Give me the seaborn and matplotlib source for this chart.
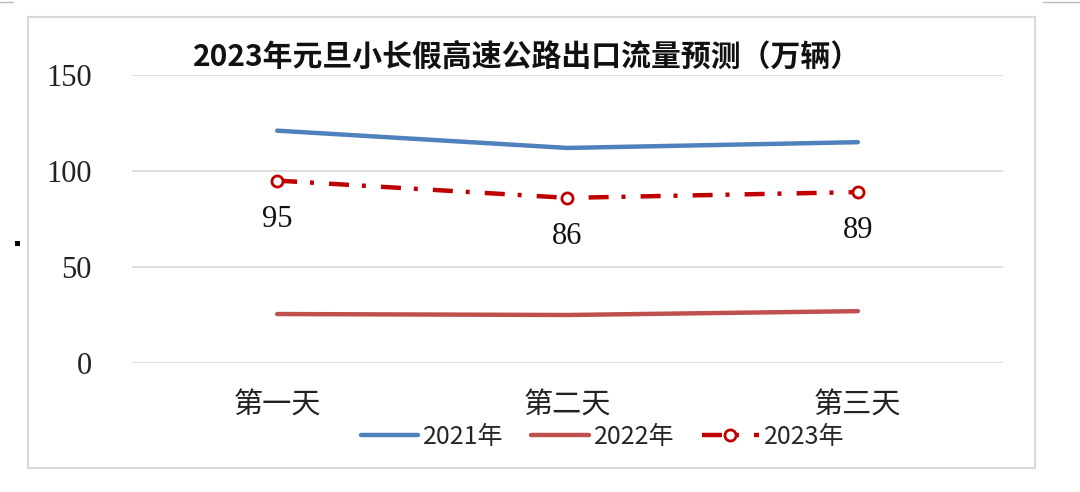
import matplotlib
matplotlib.use("Agg")
import matplotlib.pyplot as plt
import seaborn as sns
import pandas as pd
from matplotlib.lines import Line2D
from matplotlib.patches import Rectangle

categories = ["第一天", "第二天", "第三天"]
v2021 = [121, 112, 115]
v2022 = [25.5, 25, 27]
v2023 = [95, 86, 89]
series_names = ["2021年", "2022年", "2023年"]
yticks = [0, 50, 100, 150]
title = "2023年元旦小长假高速公路出口流量预测（万辆）"

sns.set_theme(style="white")
plt.rcParams['font.family'] = ['Noto Sans CJK SC', 'DejaVu Sans']

fig = plt.figure(figsize=(10.8, 4.92), dpi=100)
ax = fig.add_axes([0.1222, 0.2622, 0.8065, 0.5854])

df = pd.DataFrame({"day": categories * 3,
                   "value": v2021 + v2022 + v2023,
                   "year": [series_names[0]] * 3 + [series_names[1]] * 3 + [series_names[2]] * 3})

colors = {"2021年": "#4F81BD", "2022年": "#C0504D", "2023年": "#C00000"}

sns.lineplot(data=df[df.year == "2021年"], x="day", y="value", color=colors["2021年"],
             lw=3.2, ax=ax, sort=False, legend=False, solid_capstyle="round")
sns.lineplot(data=df[df.year == "2022年"], x="day", y="value", color=colors["2022年"],
             lw=3.2, ax=ax, sort=False, legend=False, solid_capstyle="round")
sns.lineplot(data=df[df.year == "2023年"], x="day", y="value", color=colors["2023年"],
             lw=3.2, ax=ax, sort=False, legend=False, marker="o", markersize=8,
             markerfacecolor="white", markeredgecolor=colors["2023年"], markeredgewidth=2)
ls = (0, (4.5, 2.9, 0.9, 3.4))
ax.lines[-1].set_linestyle(ls)

for i, v in enumerate(v2023):
    ax.annotate(str(v), (i, v), xytext=(0, -28), textcoords="offset points",
                ha="center", va="center", fontsize=22, family="Liberation Serif", color="#111111")

ax.set_xlim(-0.5, 2.5)
ax.set_ylim(0, 150)
ax.set_yticks(yticks)
ax.set_yticklabels([str(t) for t in yticks], family="Liberation Serif", fontsize=22, color="#222222")
ax.set_xticks(range(len(categories)))
ax.set_xticklabels(categories, fontsize=21, color="#222222", family=["Noto Sans CJK SC"], fontweight="light")
ax.tick_params(axis="y", pad=29, length=0)
ax.tick_params(axis="x", pad=20, length=0)
ax.set_xlabel("")
ax.set_ylabel("")
ax.yaxis.grid(True, color="#d9d9d9", lw=1.2)
ax.xaxis.grid(False)
for s in ax.spines.values():
    s.set_visible(False)

fig.text(0.488, 0.884, title, ha="center", va="center", fontsize=21.5, fontweight="bold",
         family=["Noto Sans CJK SC"], color="#111111")

handles = [
    Line2D([], [], color=colors["2021年"], lw=3.2, solid_capstyle="round"),
    Line2D([], [], color=colors["2022年"], lw=3.2, solid_capstyle="round"),
    Line2D([], [], color=colors["2023年"], lw=3.2, linestyle=ls, marker="o", markersize=8,
           markerfacecolor="white", markeredgecolor=colors["2023年"], markeredgewidth=2),
]
fig.legend(handles, series_names, loc="center", bbox_to_anchor=(0.558, 0.112), ncol=3,
           frameon=False, handlelength=2.3, handletextpad=0.2, columnspacing=1.1,
           prop={"family": ["Noto Sans CJK SC"], "size": 18})

fig.add_artist(Rectangle((28 / 1080, 1 - 468 / 492), (1035 - 28) / 1080, (468 - 17) / 492,
                         transform=fig.transFigure, fill=False, edgecolor="#d9d9d9", lw=1.5))
fig.add_artist(Rectangle((15 / 1080, 1 - 246 / 492), 5 / 1080, 5 / 492,
                         transform=fig.transFigure, facecolor="black", edgecolor="none"))
fig.add_artist(Line2D([0, 13 / 1080], [1 - 2 / 492] * 2, transform=fig.transFigure, color="#bbbbbb", lw=1))
fig.add_artist(Line2D([1043 / 1080, 1], [1 - 2 / 492] * 2, transform=fig.transFigure, color="#bbbbbb", lw=1))

fig.savefig("out.png", dpi=100)
